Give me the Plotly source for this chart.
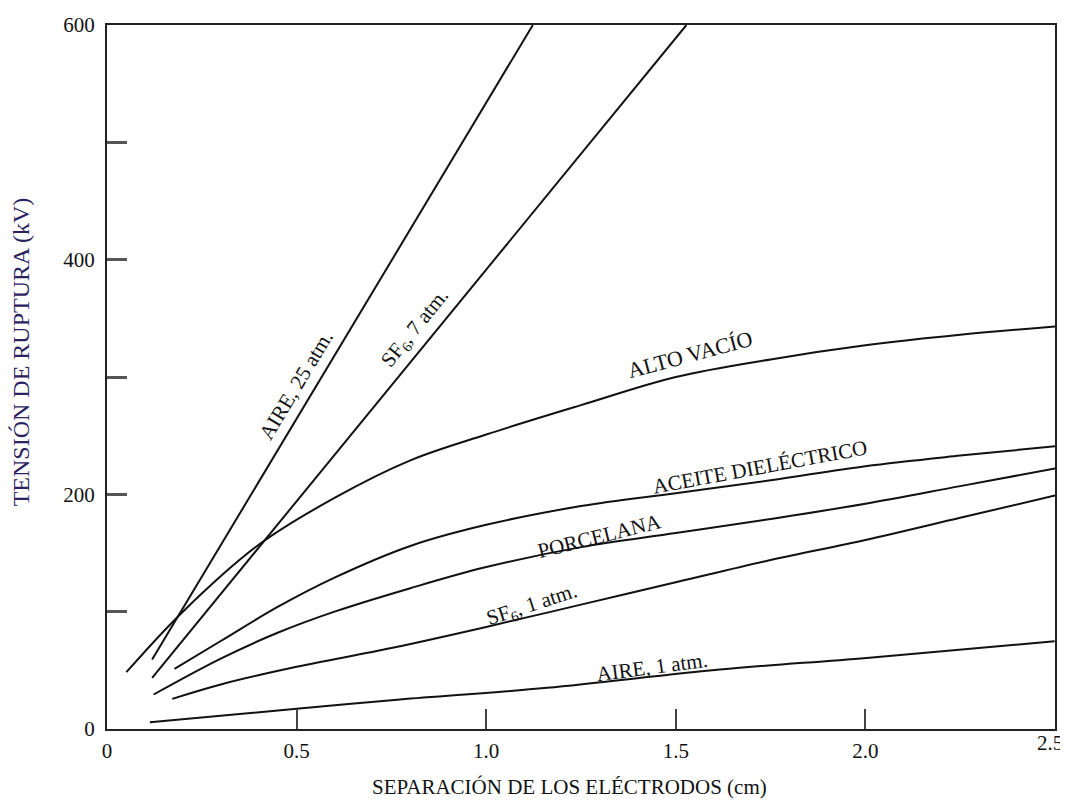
import plotly.graph_objects as go

# ---- data ----
aire25_x = [0.119, 1.123]
aire25_y = [59.2, 600.0]

sf6_7_x = [0.119, 1.528]
sf6_7_y = [43.6, 600.0]

alto_vacio_x = [0.051, 0.2, 0.4, 0.6, 0.8, 1.0, 1.25, 1.5, 1.75, 2.0, 2.25, 2.5]
alto_vacio_y = [48.4, 100, 157, 197, 229, 251, 276, 300, 315, 327, 336, 343]

aceite_x = [0.178, 0.3, 0.45, 0.6, 0.8, 1.0, 1.25, 1.5, 1.75, 2.0, 2.25, 2.5]
aceite_y = [51.3, 75, 104, 129, 156, 174, 190, 201, 212, 224, 233, 241]

porcelana_x = [0.123, 0.3, 0.45, 0.6, 0.8, 1.0, 1.25, 1.5, 1.75, 2.0, 2.25, 2.5]
porcelana_y = [29.4, 60, 82, 100, 120, 138, 155, 167, 179, 192, 207, 222]

sf6_1_x = [0.172, 0.3, 0.5, 0.75, 1.0, 1.25, 1.5, 1.75, 2.0, 2.25, 2.5]
sf6_1_y = [25.7, 38, 53, 69, 87, 106, 125, 144, 161, 180, 199]

aire1_x = [0.113, 0.5, 0.773, 1.160, 1.616, 2.003, 2.499]
aire1_y = [5.8, 17.2, 25.1, 35.1, 50.7, 60.6, 74.8]

x_ticks = [0, 0.5, 1.0, 1.5, 2.0, 2.5]
x_tick_labels = ["0", "0.5", "1.0", "1.5", "2.0", "2.5"]
y_ticks = [0, 100, 200, 300, 400, 500, 600]
y_tick_labels = ["0", "", "200", "", "400", "", "600"]

labels = [
    ("AIRE, 25 atm.", 0.499, 293.0, -59, 21),
    ("SF<sub>6</sub>, 7 atm.", 0.813, 342.0, -51, 21),
    ("ALTO VACÍO", 1.538, 319.0, -15, 22),
    ("ACEITE DIELÉCTRICO", 1.722, 223.6, -10.5, 21),
    ("PORCELANA", 1.300, 164.8, -14, 21),
    ("SF<sub>6</sub>, 1 atm.", 1.121, 106.0, -18, 21),
    ("AIRE, 1 atm.", 1.438, 53.0, -7.5, 21),
]

FONT = "Liberation Serif, Times New Roman, serif"

fig = go.Figure()
series = [
    (aire25_x, aire25_y, "linear"),
    (sf6_7_x, sf6_7_y, "linear"),
    (alto_vacio_x, alto_vacio_y, "spline"),
    (aceite_x, aceite_y, "spline"),
    (porcelana_x, porcelana_y, "spline"),
    (sf6_1_x, sf6_1_y, "spline"),
    (aire1_x, aire1_y, "spline"),
]
for xs, ys, shape in series:
    fig.add_trace(go.Scatter(
        x=xs, y=ys, mode="lines",
        line=dict(color="#111111", width=2, shape=shape, smoothing=1.0),
        showlegend=False, hoverinfo="skip",
    ))

for text, x, y, ang, sz in labels:
    fig.add_annotation(
        x=x, y=y, xref="x", yref="y", text=text, textangle=ang,
        xanchor="center", yanchor="middle",
        showarrow=False, font=dict(family=FONT, size=sz, color="#111111"),
    )

# plot area in page pixels: left 106.5, right 1055.5, top 25, bottom 729.5
PL, PR, PT, PB = 106.5, 1055.5, 25.0, 729.5

# last x tick label drawn as right-anchored text so it stays inside the page
axis_tick_labels = list(x_tick_labels[:-1]) + [""]
fig.add_annotation(
    x=x_ticks[-1], xref="x", y=(PB - 744) / (PB - PT), yref="paper",
    text=x_tick_labels[-1], xanchor="right", yanchor="middle", xshift=10,
    showarrow=False, font=dict(family=FONT, size=21, color="#111111"),
)

fig.add_annotation(
    x=(569 - PL) / (PR - PL), y=(PB - 788) / (PB - PT), xref="paper", yref="paper",
    xanchor="center", yanchor="middle",
    text="SEPARACIÓN DE LOS ELÉCTRODOS (cm)",
    showarrow=False, font=dict(family=FONT, size=21, color="#111111"),
)

fig.add_annotation(
    x=(20 - PL) / (PR - PL), y=(PB - 352) / (PB - PT), xref="paper", yref="paper",
    xanchor="center", yanchor="middle",
    text="TENSIÓN DE RUPTURA (kV)", textangle=-90,
    showarrow=False, font=dict(family=FONT, size=24, color="#2b2360"),
)

# the page places the figure 8px from the top-left corner
fig.update_layout(
    width=1068, height=800,
    margin=dict(l=98.5, r=20.5, t=17, b=78.5, autoexpand=False),
    paper_bgcolor="white", plot_bgcolor="white",
    font=dict(family=FONT, size=21, color="#111111"),
    xaxis=dict(
        range=[0, 2.5], tickvals=x_ticks, ticktext=axis_tick_labels,
        ticks="inside", ticklen=20, tickwidth=2, tickcolor="#444444",
        showline=True, linecolor="#222222", linewidth=2, mirror=True,
        showgrid=False, zeroline=False, automargin=False,
        ticklabelstandoff=2, ticklabeloverflow="allow",
    ),
    yaxis=dict(
        range=[0, 600], tickvals=y_ticks, ticktext=y_tick_labels,
        ticks="inside", ticklen=20, tickwidth=2.5, tickcolor="#555555",
        showline=True, linecolor="#222222", linewidth=2, mirror=True,
        showgrid=False, zeroline=False, automargin=False,
        ticklabelstandoff=6, ticklabeloverflow="allow",
    ),
)

fig.write_html("out.html", post_script="document.body.style.overflow='hidden';")
